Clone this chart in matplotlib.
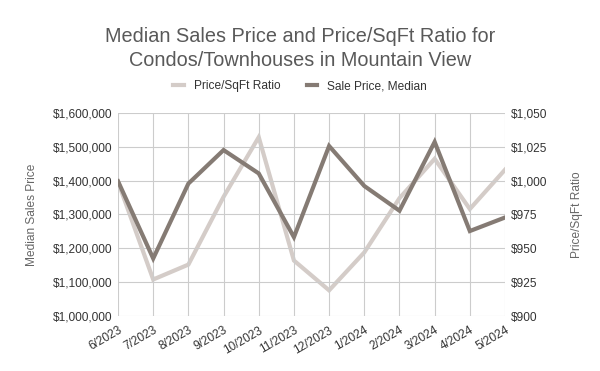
import matplotlib

matplotlib.use("Agg")
import matplotlib.pyplot as plt
from matplotlib.ticker import FuncFormatter

plt.rcParams["font.family"] = ["Liberation Sans", "DejaVu Sans"]

months = ["6/2023", "7/2023", "8/2023", "9/2023", "10/2023", "11/2023",
          "12/2023", "1/2024", "2/2024", "3/2024", "4/2024", "5/2024"]
sale_price = [1398000, 1170000, 1391000, 1490000, 1421000, 1233000,
              1502000, 1384000, 1311000, 1514000, 1251000, 1291000]
price_sqft = [999, 927, 938, 988, 1032, 941, 919, 947, 987, 1016, 979, 1008]

DARK = "#857b74"
LIGHT = "#d4ccc8"
TEXT = "#333333"

fig = plt.figure(figsize=(6, 3.71), dpi=100)
ax = fig.add_axes([0.1967, 0.148, 0.645, 0.548])
ax2 = ax.twinx()

x = list(range(len(months)))
ln1, = ax2.plot(x, price_sqft, color=LIGHT, lw=3, solid_joinstyle="miter",
                label="Price/SqFt Ratio", zorder=2)
ln2, = ax.plot(x, sale_price, color=DARK, lw=3, solid_joinstyle="miter",
               label="Sale Price, Median", zorder=3)
ax.set_zorder(ax2.get_zorder() + 1)
ax.patch.set_visible(False)

ax.set_xlim(0, len(months) - 1)
ax.set_ylim(1000000, 1600000)
ax.set_yticks(range(1000000, 1600001, 100000))
ax.yaxis.set_major_formatter(FuncFormatter(lambda v, p: f"${v:,.0f}"))
ax2.set_ylim(900, 1050)
ax2.set_yticks(range(900, 1051, 25))
ax2.yaxis.set_major_formatter(FuncFormatter(lambda v, p: f"${v:,.0f}"))

ax.set_xticks(x)
ax.set_xticklabels(months, rotation=30, ha="right", rotation_mode="anchor")
ax.grid(True, color="#cccccc", lw=0.8)
ax.set_axisbelow(True)

for a in (ax, ax2):
    for s in a.spines.values():
        s.set_visible(False)
    a.tick_params(length=0, labelsize=8.6, colors=TEXT, pad=4)
ax.tick_params(axis="x", pad=6)

ax.set_ylabel("Median Sales Price", fontsize=8.6, color="#666666", labelpad=11)
ax2.set_ylabel("Price/SqFt Ratio", fontsize=8.6, color="#666666", labelpad=17)

fig.text(0.5, 0.869, "Median Sales Price and Price/SqFt Ratio for\nCondos/Townhouses in Mountain View",
         ha="center", va="center", fontsize=14.3, color="#595959", linespacing=1.35)

fig.legend(handles=[ln1, ln2], loc="center", bbox_to_anchor=(0.5, 0.768), ncol=2,
           frameon=False, fontsize=8.6, handlelength=0.9, handletextpad=0.8,
           columnspacing=2.2, labelcolor=TEXT)

fig.savefig("out.png", dpi=100)
